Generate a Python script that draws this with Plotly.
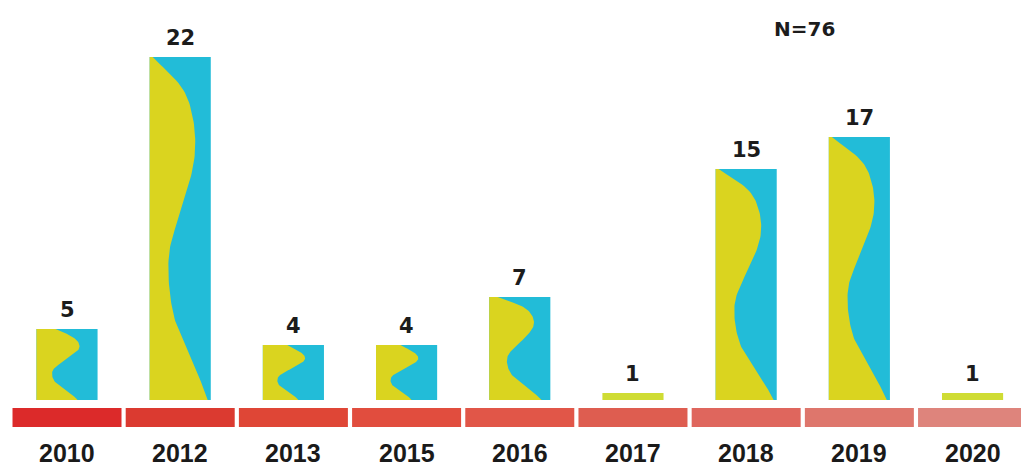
import numpy as np
import plotly.graph_objects as go

# Publications per year
years = ["2010", "2012", "2013", "2015", "2016", "2017", "2018", "2019", "2020"]
counts = [5, 22, 4, 4, 7, 1, 15, 17, 1]
total_label = "N=76"

# Red ribbon under the bars, darkest for the oldest year
ribbon_colors = ["#dc2a2a", "#db3a30", "#df4636", "#e14d3e", "#e15648",
                 "#de5d50", "#df665d", "#de766c", "#de847c"]

YELLOW = "#dad41f"
CYAN = "#22bcd8"
LIME = "#cfdc34"
BAR_W = 0.54
BAR_BASE = 0.56          # bars start a little above the ribbon
RIBBON_LO, RIBBON_HI = -1.125, 0.06

# S-shaped yellow/cyan split inside each bar (fraction of bar width vs. height)
WAVE_T = [0.0, 0.04, 0.14, 0.23, 0.33, 0.43, 0.52, 0.62, 0.72, 0.82, 0.91, 1.0]
WAVE_TALL = [0.95, 0.87, 0.63, 0.42, 0.32, 0.32, 0.45, 0.63, 0.74, 0.71, 0.53, 0.05]
WAVE_SHORT = [0.58, 0.55, 0.42, 0.30, 0.24, 0.26, 0.38, 0.55, 0.68, 0.67, 0.55, 0.40]


def catmull_rom(px, py, n=12):
    px, py = np.asarray(px, float), np.asarray(py, float)
    P = np.column_stack([px, py])
    P = np.vstack([P[0] * 2 - P[1], P, P[-1] * 2 - P[-2]])
    out = []
    for i in range(1, len(P) - 2):
        p0, p1, p2, p3 = P[i - 1], P[i], P[i + 1], P[i + 2]
        for s in np.linspace(0, 1, n, endpoint=False):
            s2, s3 = s * s, s * s * s
            out.append(0.5 * ((2 * p1) + (-p0 + p2) * s + (2 * p0 - 5 * p1 + 4 * p2 - p3) * s2
                              + (-p0 + 3 * p1 - 3 * p2 + p3) * s3))
    out.append(P[-2])
    out = np.array(out)
    return out[:, 0], out[:, 1]


x_pos = list(range(len(years)))
fig = go.Figure()

# Ribbon segments
fig.add_trace(go.Bar(
    x=x_pos, y=[RIBBON_HI - RIBBON_LO] * len(years), base=[RIBBON_LO] * len(years),
    width=0.963, marker=dict(color=ribbon_colors, line=dict(width=0)),
    hoverinfo="skip", showlegend=False))

# Bar bodies (cyan, or lime for single-count years)
fig.add_trace(go.Bar(
    x=x_pos, y=[v - BAR_BASE for v in counts], base=[BAR_BASE] * len(counts),
    width=BAR_W,
    marker=dict(color=[LIME if v <= 1 else CYAN for v in counts], line=dict(width=0)),
    customdata=counts, hovertemplate="%{customdata}<extra></extra>", showlegend=False))

# Yellow S-shaped region on the left of each bar
for xi, v in zip(x_pos, counts):
    if v <= 1:
        continue
    h = float(np.clip((v - 4) / 4.0, 0, 1))
    prof = [s + (t - s) * h for s, t in zip(WAVE_SHORT, WAVE_TALL)]
    fx, ft = catmull_rom(prof, WAVE_T)
    left = xi - BAR_W / 2
    cx = left + np.clip(fx, 0, 1) * BAR_W
    cy = BAR_BASE + np.clip(ft, 0, 1) * (v - BAR_BASE)
    xs = [left] + list(cx) + [left, left]
    ys = [BAR_BASE] + list(cy) + [v, BAR_BASE]
    fig.add_trace(go.Scatter(
        x=xs, y=ys, mode="lines", fill="toself", fillcolor=YELLOW,
        line=dict(width=0, color=YELLOW), hoverinfo="skip", showlegend=False))

# Count labels above bars
for xi, v in zip(x_pos, counts):
    fig.add_annotation(
        x=xi, y=v, text=str(v), showarrow=False, yanchor="bottom", yshift=5,
        font=dict(family="DejaVu Sans", size=21, color="#1c1c1c", weight="bold"))

# Year labels under the ribbon
for xi, yr in zip(x_pos, years):
    fig.add_annotation(
        x=xi, y=-2.75, text=yr, showarrow=False, xanchor="center", yanchor="middle",
        font=dict(family="Liberation Sans", size=25, color="#1a1a1a", weight="bold"))

fig.add_annotation(
    x=0.788, y=28, xref="paper", yref="paper", text=total_label, showarrow=False,
    xanchor="center", yanchor="middle",
    font=dict(family="DejaVu Sans", size=20, color="#1c1c1c", weight="bold"))
# place N label in paper units (plot spans the full page height)
fig.layout.annotations[-1].y = 1 - 29 / 468

fig.update_layout(
    width=1021, height=468,
    margin=dict(l=0, r=0, t=0, b=0),
    paper_bgcolor="white", plot_bgcolor="white",
    barmode="overlay", showlegend=False,
    xaxis=dict(range=[-0.592, 8.428], tickvals=x_pos, showticklabels=False,
               showgrid=False, zeroline=False, showline=False, ticks="",
               fixedrange=True),
    yaxis=dict(range=[-3.6875, 25.5625], visible=False, showgrid=False,
               zeroline=False, fixedrange=True),
)

fig.write_html("out.html")
